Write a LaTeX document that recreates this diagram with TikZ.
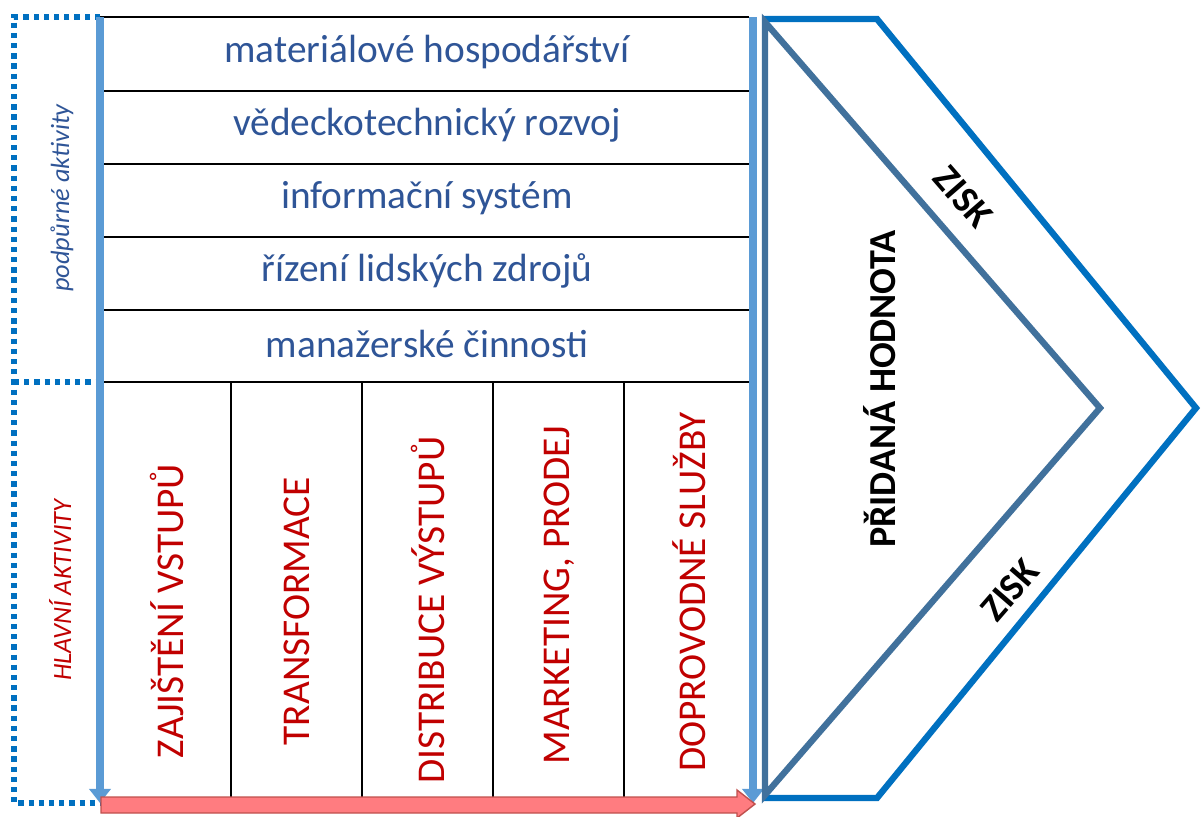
\documentclass[tikz,border=0pt]{standalone}
\usepackage{fontspec}
\setmainfont{Carlito}
\usetikzlibrary{positioning, arrows.meta, calc}

\definecolor{rowblue}{HTML}{2F5597}
\definecolor{colred}{HTML}{C00000}
\definecolor{barblue}{HTML}{5B9BD5}
\definecolor{dotblue}{HTML}{0070C0}
\definecolor{steelblue}{HTML}{41719C}
\definecolor{flowred}{HTML}{FF7C80}
\definecolor{flowedge}{HTML}{C0504D}

\begin{document}
\begin{tikzpicture}[x=0.02cm, y=-0.02cm,
    rowtext/.style={text=rowblue, font=\fontsize{22.4}{26}\selectfont},
    coltext/.style={text=colred, rotate=90, font=\fontsize{22.4}{26}\selectfont},
    sidetext/.style={rotate=90, font=\itshape\fontsize{15}{18}\selectfont},
    boldtext/.style={font=\bfseries\fontsize{21.7}{25}\selectfont},
    gridline/.style={line width=1.1pt},
    dotframe/.style={dotblue, line width=3pt, dash pattern=on 3pt off 2.8pt},
    bar/.style={barblue, line width=4.5pt, -{Triangle[width=12pt, length=8pt]}},
    chevron/.style={line width=3.6pt, line join=miter}]
    \useasboundingbox (0,0) rectangle (1203,816);
    % Dotted frame of the two activity groups
    \draw [dotframe] (100,17) -- (14,17) -- (14,803) -- (100,803);
    \draw [dotframe] (14,382) -- (100,382);
    % Table lines
    \draw [gridline] (100,17) -- (749,17);
    \draw [gridline] (104,91) -- (749,91);
    \draw [gridline] (104,164) -- (749,164);
    \draw [gridline] (104,237) -- (749,237);
    \draw [gridline] (104,310) -- (749,310);
    \draw [gridline] (104,382) -- (749,382);
    \draw [gridline] (231,382) -- (231,798);
    \draw [gridline] (362,382) -- (362,798);
    \draw [gridline] (493,382) -- (493,798);
    \draw [gridline] (624,382) -- (624,798);
    % Support activities
    \node [rowtext] (materials) at (427,52) {materiálové hospodářství};
    \node [rowtext] (research) at (427,125) {vědeckotechnický rozvoj};
    \node [rowtext] (infosys) at (427,198) {informační systém};
    \node [rowtext] (people) at (427,271) {řízení lidských zdrojů};
    \node [rowtext] (management) at (427,344) {manažerské činnosti};
    % Primary activities
    \node [coltext] (inputs) at (167,611) {ZAJIŠTĚNÍ VSTUPŮ};
    \node [coltext] (transform) at (297,611) {TRANSFORMACE};
    \node [coltext] (outputs) at (428,610) {DISTRIBUCE VÝSTUPŮ};
    \node [coltext] (marketing) at (559,595) {MARKETING, PRODEJ};
    \node [coltext] (services) at (689,592) {DOPROVODNÉ SLUŽBY};
    % Side labels
    \node [sidetext, text=rowblue] (support) at (62,198) {podpůrné aktivity};
    \node [sidetext, text=colred] (primary) at (60,590) {HLAVNÍ AKTIVITY};
    % Blue bars
    \draw [bar] (100,17) -- (100,803);
    \draw [bar] (753,17) -- (753,803);
    % Red flow arrow
    \draw [fill=flowred, draw=flowedge, line width=0.8pt]
        (101,797) -- (737,797) -- (737,790) -- (755,804) -- (737,818) -- (737,813) -- (101,813) -- cycle;
    % Value chevrons
    \draw [chevron, dotblue] (762,19) -- (877,19) -- (1196,408) -- (877,798) -- (762,798);
    \draw [chevron, steelblue] (765,22) -- (1100,408) -- (765,795) -- cycle;
    \node [boldtext, rotate=90] (value) at (880,389) {PŘIDANÁ HODNOTA};
    \node [boldtext, rotate=-49] (profitup) at (963,197) {ZISK};
    \node [boldtext, rotate=49] (profitdown) at (1010,590) {ZISK};
\end{tikzpicture}
\end{document}
